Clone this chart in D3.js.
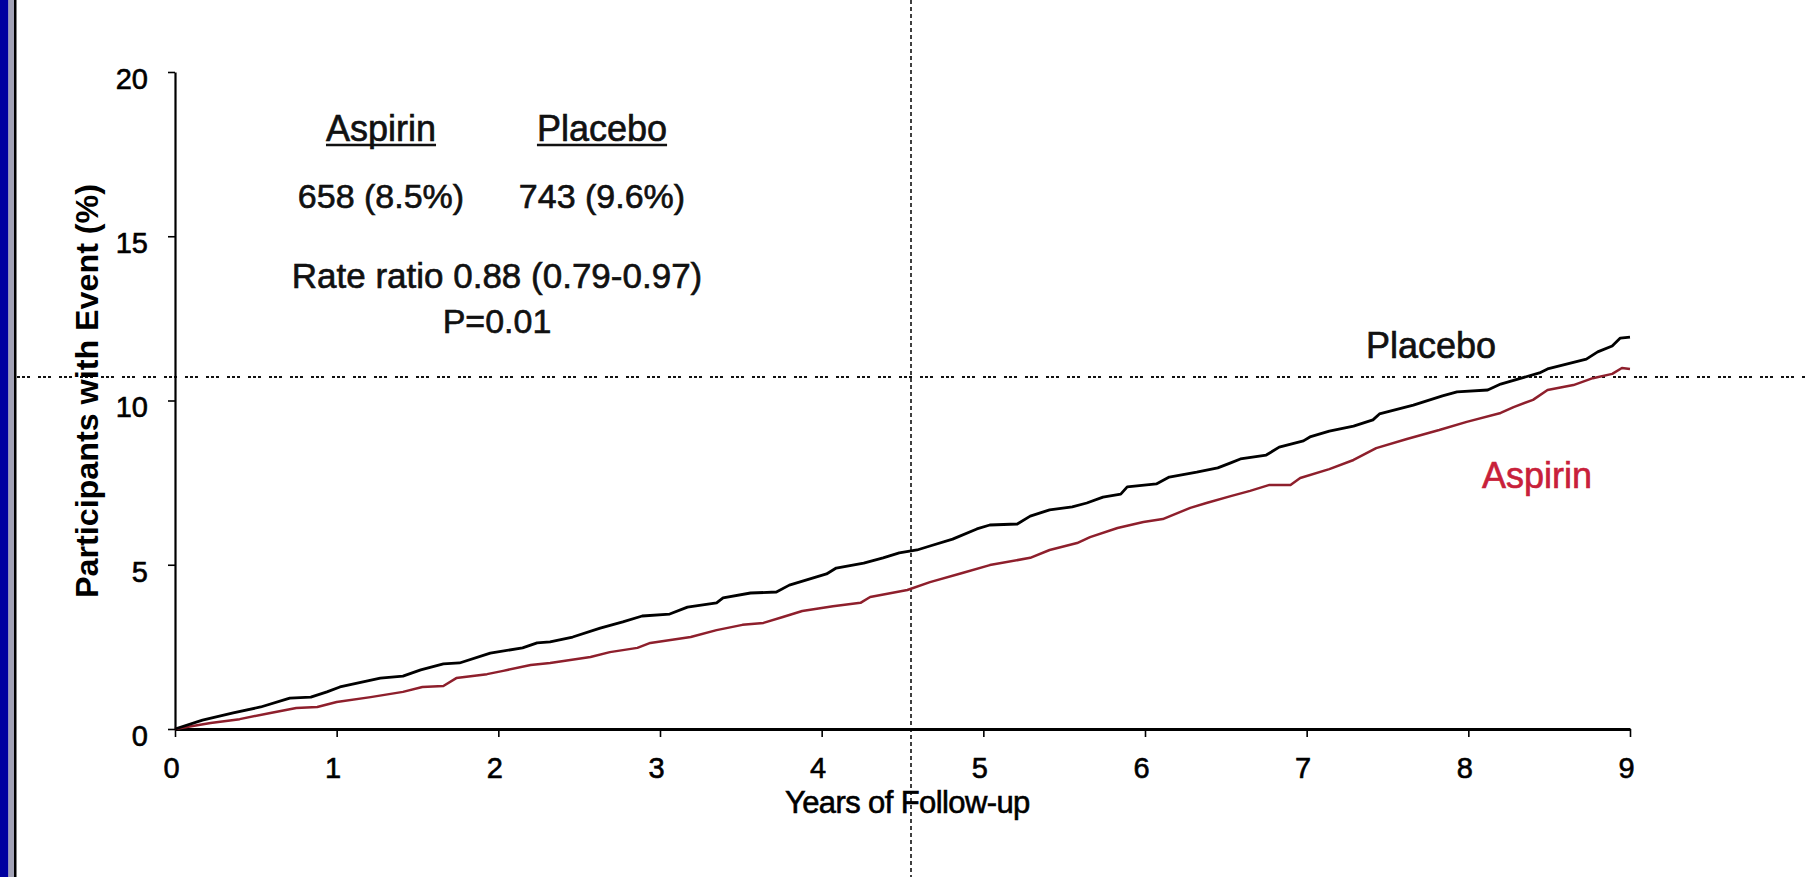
<!DOCTYPE html>
<html>
<head>
<meta charset="utf-8">
<script src="https://cdn.jsdelivr.net/npm/d3@7"></script>
<style>
  html, body { margin: 0; padding: 0; background: #ffffff; }
  svg { display: block; font-family: "Liberation Sans", Arial, sans-serif; }
</style>
</head>
<body>
<svg id="chart" width="1805" height="877"></svg>
<script>
// Cumulative incidence (%) by year of follow-up
const placeboYears = [0, 0.17, 0.36, 0.53, 0.71, 0.84, 0.94, 1.02, 1.27, 1.41, 1.52, 1.66, 1.76, 1.95, 2.15, 2.24, 2.32, 2.46, 2.63, 2.77, 2.89, 3.06, 3.17, 3.35, 3.39, 3.56, 3.72, 3.80, 4.03, 4.09, 4.26, 4.38, 4.48, 4.59, 4.67, 4.81, 4.96, 5.04, 5.21, 5.29, 5.41, 5.55, 5.64, 5.74, 5.85, 5.89, 6.07, 6.15, 6.32, 6.45, 6.53, 6.59, 6.75, 6.83, 6.98, 7.02, 7.14, 7.29, 7.41, 7.45, 7.66, 7.84, 7.93, 8.12, 8.20, 8.44, 8.49, 8.73, 8.80, 8.89, 8.94, 9.0];
const placeboPct   = [0, 0.27, 0.49, 0.67, 0.94, 0.97, 1.13, 1.28, 1.55, 1.61, 1.80, 1.98, 2.01, 2.31, 2.47, 2.62, 2.65, 2.80, 3.07, 3.26, 3.44, 3.50, 3.71, 3.84, 3.99, 4.14, 4.17, 4.38, 4.72, 4.90, 5.05, 5.21, 5.36, 5.45, 5.57, 5.78, 6.09, 6.21, 6.24, 6.48, 6.67, 6.76, 6.88, 7.06, 7.15, 7.37, 7.46, 7.67, 7.82, 7.95, 8.10, 8.22, 8.34, 8.58, 8.77, 8.89, 9.07, 9.22, 9.41, 9.59, 9.86, 10.14, 10.26, 10.32, 10.50, 10.84, 10.96, 11.26, 11.48, 11.66, 11.90, 11.93];

const aspirinYears = [0, 0.22, 0.40, 0.59, 0.75, 0.88, 1.00, 1.21, 1.41, 1.53, 1.66, 1.74, 1.93, 2.03, 2.20, 2.32, 2.57, 2.69, 2.86, 2.94, 3.19, 3.35, 3.51, 3.64, 3.76, 3.88, 4.07, 4.24, 4.30, 4.53, 4.67, 4.87, 5.04, 5.29, 5.41, 5.58, 5.66, 5.83, 5.99, 6.11, 6.28, 6.38, 6.53, 6.65, 6.77, 6.90, 6.96, 7.14, 7.29, 7.43, 7.62, 7.82, 7.99, 8.20, 8.28, 8.40, 8.49, 8.65, 8.77, 8.89, 8.95, 9.0];
const aspirinPct   = [0, 0.18, 0.30, 0.49, 0.64, 0.67, 0.82, 0.97, 1.13, 1.28, 1.31, 1.55, 1.67, 1.77, 1.95, 2.01, 2.19, 2.34, 2.47, 2.62, 2.80, 3.01, 3.17, 3.23, 3.41, 3.59, 3.74, 3.84, 4.02, 4.23, 4.47, 4.75, 4.99, 5.21, 5.45, 5.66, 5.84, 6.12, 6.30, 6.39, 6.73, 6.88, 7.09, 7.25, 7.43, 7.43, 7.64, 7.91, 8.19, 8.55, 8.83, 9.10, 9.35, 9.62, 9.80, 10.02, 10.32, 10.47, 10.68, 10.81, 10.99, 10.96];

const xTicks = [0, 1, 2, 3, 4, 5, 6, 7, 8, 9];
const yTicks = [0, 5, 10, 15, 20];

const groupNames  = ["Aspirin", "Placebo"];
const groupCounts = ["658 (8.5%)", "743 (9.6%)"];
const statLines   = ["Rate ratio 0.88 (0.79-0.97)", "P=0.01"];

const xTitle = "Years of Follow-up";
const yTitle = "Participants with Event (%)";

const svg = d3.select("#chart");

// slide frame on the left edge
svg.append("rect").attr("x", 0).attr("y", 0).attr("width", 8.5).attr("height", 877).attr("fill", "#0000a0");
svg.append("rect").attr("x", 8.5).attr("y", 0).attr("width", 5.5).attr("height", 877).attr("fill", "#a2a2b6");
svg.append("rect").attr("x", 14).attr("y", 0).attr("width", 2.5).attr("height", 877).attr("fill", "#000000");

const x = d3.scaleLinear().domain([0, 9]).range([175, 1630]);
const y = d3.scaleLinear().domain([0, 20]).range([729, 72]);

// crosshair guides
svg.append("line")
  .attr("x1", 17).attr("x2", 1805).attr("y1", 377).attr("y2", 377)
  .attr("stroke", "#111").attr("stroke-width", 2.2)
  .attr("stroke-dasharray", "3,2,3,2,3,8");
svg.append("line")
  .attr("x1", 911).attr("x2", 911).attr("y1", 0).attr("y2", 877)
  .attr("stroke", "#111").attr("stroke-width", 1.6)
  .attr("stroke-dasharray", "4,3");

// slightly heavier glyphs for the tick and note text
const heavy = sel => sel.attr("stroke", "#000").attr("stroke-width", 0.6).attr("paint-order", "stroke");

// y axis
const yAxis = svg.append("g")
  .attr("transform", `translate(${x(0)},0)`)
  .call(d3.axisLeft(y).tickValues(yTicks).tickSizeInner(7).tickSizeOuter(0).tickPadding(20));
yAxis.select(".domain").attr("stroke", "#000").attr("stroke-width", 2.2);
yAxis.selectAll(".tick line").attr("stroke", "#000").attr("stroke-width", 1.6);
yAxis.selectAll(".tick text")
  .attr("font-size", 29).attr("fill", "#000")
  .attr("font-family", "Liberation Sans, Arial, sans-serif")
  .attr("dy", "0.56em")
  .call(heavy);

// x axis
const xAxis = svg.append("g")
  .attr("transform", `translate(0,${y(0)})`)
  .call(d3.axisBottom(x).tickValues(xTicks).tickSizeInner(8).tickSizeOuter(0).tickPadding(20));
xAxis.select(".domain").attr("stroke", "#000").attr("stroke-width", 3);
xAxis.selectAll(".tick line").attr("stroke", "#000").attr("stroke-width", 1.6);
xAxis.selectAll(".tick text")
  .attr("font-size", 29).attr("fill", "#000")
  .attr("font-family", "Liberation Sans, Arial, sans-serif")
  .attr("dx", -4)
  .call(heavy);

// axis titles
svg.append("text")
  .attr("x", x(4.53)).attr("y", 813)
  .attr("text-anchor", "middle")
  .attr("font-size", 31).attr("letter-spacing", -0.6)
  .attr("fill", "#000")
  .call(heavy)
  .text(xTitle);
svg.append("text")
  .attr("transform", "translate(98,391) rotate(-90)")
  .attr("text-anchor", "middle")
  .attr("font-size", 31).attr("font-weight", "bold")
  .attr("textLength", 414).attr("lengthAdjust", "spacingAndGlyphs")
  .attr("fill", "#000")
  .text(yTitle);

// curves
const line = d3.line().x(d => x(d[0])).y(d => y(d[1]));
const placebo = placeboYears.map((t, i) => [t, placeboPct[i]]);
const aspirin = aspirinYears.map((t, i) => [t, aspirinPct[i]]);

svg.append("path").datum(aspirin)
  .attr("d", line).attr("fill", "none")
  .attr("stroke", "#8e1f2c").attr("stroke-width", 2.5)
  .attr("stroke-linejoin", "round");
svg.append("path").datum(placebo)
  .attr("d", line).attr("fill", "none")
  .attr("stroke", "#000").attr("stroke-width", 2.8)
  .attr("stroke-linejoin", "round");

// curve labels
svg.append("text")
  .attr("x", 1431).attr("y", 358).attr("text-anchor", "middle")
  .attr("font-size", 36).attr("fill", "#111")
  .call(heavy)
  .text(groupNames[1]);
svg.append("text")
  .attr("x", 1537).attr("y", 488).attr("text-anchor", "middle")
  .attr("font-size", 36).attr("fill", "#c8203a")
  .attr("stroke", "#c8203a").attr("stroke-width", 0.6)
  .text(groupNames[0]);

// summary box
const colX = [381, 602];
groupNames.forEach((name, i) => {
  const t = svg.append("text")
    .attr("x", colX[i]).attr("y", 141).attr("text-anchor", "middle")
    .attr("font-size", 36).attr("fill", "#111")
    .call(heavy)
    .text(name);
  const w = t.node().getComputedTextLength();
  svg.append("line")
    .attr("x1", colX[i] - w / 2).attr("x2", colX[i] + w / 2)
    .attr("y1", 145).attr("y2", 145)
    .attr("stroke", "#111").attr("stroke-width", 2.6);
  svg.append("text")
    .attr("x", colX[i]).attr("y", 208).attr("text-anchor", "middle")
    .attr("font-size", 34).attr("fill", "#111")
    .call(heavy)
    .text(groupCounts[i]);
});
svg.append("text")
  .attr("x", 497).attr("y", 288).attr("text-anchor", "middle")
  .attr("font-size", 35).attr("fill", "#111")
  .call(heavy)
  .text(statLines[0]);
svg.append("text")
  .attr("x", 497).attr("y", 333).attr("text-anchor", "middle")
  .attr("font-size", 34).attr("fill", "#111")
  .call(heavy)
  .text(statLines[1]);
</script>
</body>
</html>
